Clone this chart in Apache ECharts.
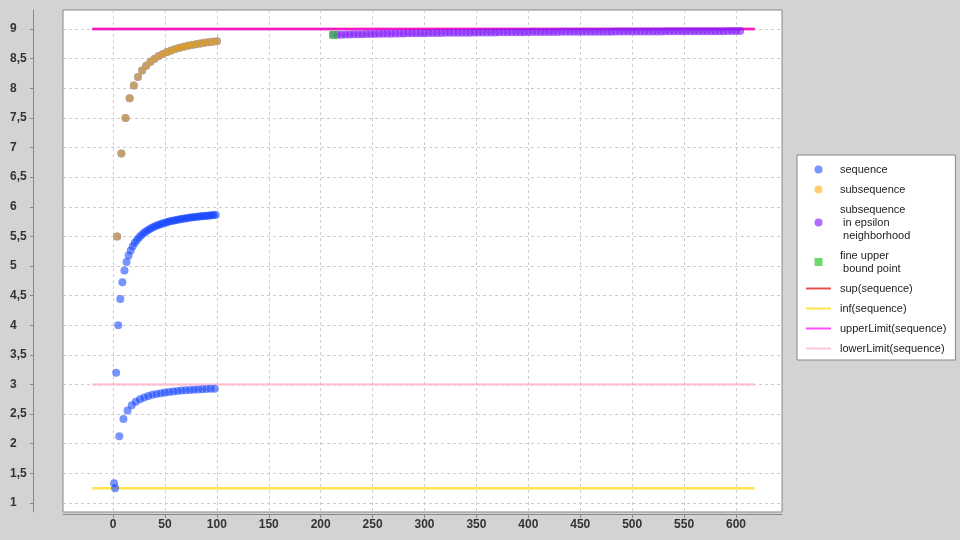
<!DOCTYPE html>
<html>
<head>
<meta charset="utf-8">
<script src="https://cdn.jsdelivr.net/npm/echarts@6/dist/echarts.min.js"></script>
<style>html,body{margin:0;padding:0;background:#d3d3d3;}#c{width:960px;height:540px;}</style>
</head>
<body>
<div id="c"></div>
<script>
// ---- data ----
const seqN = [1,2,3,4,5,6,7,8,9,10,11,12,13,14,15,16,17,18,19,20,21,22,23,24,25,26,27,28,29,30,31,32,33,34,35,36,37,38,39,40,41,42,43,44,45,46,47,48,49,50,51,52,53,54,55,56,57,58,59,60,61,62,63,64,65,66,67,68,69,70,71,72,73,74,75,76,77,78,79,80,81,82,83,84,85,86,87,88,89,90,91,92,93,94,95,96,97,98,99,100];
const seqVal = [1.333,1.25,3.2,5.5,4.0,2.125,4.444,6.9,4.727,2.417,4.923,7.5,5.067,2.563,5.176,7.833,5.263,2.65,5.333,8.045,
  5.391,2.708,5.44,8.192,5.481,2.75,5.517,8.3,5.548,2.781,5.576,8.382,5.6,2.806,5.622,8.447,5.641,2.825,5.659,8.5,
  5.674,2.841,5.689,8.543,5.702,2.854,5.714,8.58,5.725,2.865,5.736,8.611,5.745,2.875,5.754,8.638,5.763,2.883,5.77,8.661,
  5.778,2.891,5.785,8.682,5.791,2.897,5.797,8.7,5.803,2.903,5.808,8.716,5.813,2.908,5.818,8.731,5.823,2.913,5.827,8.744,
  5.831,2.917,5.835,8.756,5.839,2.92,5.843,8.767,5.846,2.924,5.849,8.777,5.853,2.927,5.856,8.786,5.859,2.93,5.861,8.794];
const subN = [4,8,12,16,20,24,28,32,36,40,44,48,52,56,60,64,68,72,76,80,84,88,92,96,100];
const subVal = [5.5,6.9,7.5,7.833,8.045,8.192,8.3,8.382,8.447,8.5,8.543,8.58,8.611,8.638,8.661,8.682,8.7,8.716,8.731,8.744,8.756,8.767,8.777,8.786,8.794];
const epsN = [212,216,220,224,228,232,236,240,244,248,252,256,260,264,268,272,276,280,284,288,292,296,300,304,308,312,316,320,324,328,
  332,336,340,344,348,352,356,360,364,368,372,376,380,384,388,392,396,400,404,408,412,416,420,424,428,432,436,440,444,448,
  452,456,460,464,468,472,476,480,484,488,492,496,500,504,508,512,516,520,524,528,532,536,540,544,548,552,556,560,564,568,
  572,576,580,584,588,592,596,600,604];
const epsVal = [8.902,8.904,8.905,8.907,8.909,8.910,8.912,8.913,8.915,8.916,8.917,8.919,8.920,8.921,8.922,8.923,8.925,8.926,8.927,8.928,
  8.929,8.930,8.930,8.931,8.932,8.933,8.934,8.935,8.936,8.936,8.937,8.938,8.939,8.939,8.940,8.941,8.941,8.942,8.943,8.943,
  8.944,8.944,8.945,8.946,8.946,8.947,8.947,8.948,8.948,8.949,8.949,8.950,8.950,8.951,8.951,8.952,8.952,8.952,8.953,8.953,
  8.954,8.954,8.955,8.955,8.955,8.956,8.956,8.956,8.957,8.957,8.957,8.958,8.958,8.958,8.959,8.959,8.959,8.960,8.960,8.960,
  8.961,8.961,8.961,8.962,8.962,8.962,8.962,8.963,8.963,8.963,8.963,8.964,8.964,8.964,8.964,8.965,8.965,8.965,8.965];
const fineN = [212];
const fineVal = [8.902];
const lineX = [-20, 618];
const supVal = 9;
const infVal = 1.25;
const upperLimitVal = 9;
const lowerLimitVal = 3;
const xTicks = [0,50,100,150,200,250,300,350,400,450,500,550,600];
const yTicks = [1,1.5,2,2.5,3,3.5,4,4.5,5,5.5,6,6.5,7,7.5,8,8.5,9];
const legendLabels = {
  'sequence': 'sequence',
  'subsequence': 'subsequence',
  'eps': 'subsequence\n in epsilon\n neighborhood',
  'fine': 'fine upper\n bound point',
  'sup(sequence)': 'sup(sequence)',
  'inf(sequence)': 'inf(sequence)',
  'upperLimit(sequence)': 'upperLimit(sequence)',
  'lowerLimit(sequence)': 'lowerLimit(sequence)'
};

const pairs = (xs, ys) => xs.map((x, i) => [x, ys[i]]);
const hline = (v) => lineX.map(x => [x, v]);

const FONT = 'Liberation Sans';
const chart = echarts.init(document.getElementById('c'), null, {renderer: 'canvas'});
const gridLine = {show: true, lineStyle: {color: '#cdcdcd', type: [3, 3], width: 1}};
const LINE_ICON = 'path://M0,0H25V2H0Z';

const lineSeries = (name, v, color) => ({
  name, type: 'line', data: hline(v), symbol: 'none', showSymbol: false, silent: true,
  lineStyle: {color, width: 2.5}, itemStyle: {color}, z: 2
});
const scatterSeries = (name, data, color, symbol, z) => ({
  name, type: 'scatter', data, symbol, symbolSize: 8, silent: true,
  itemStyle: {color}, z
});

chart.setOption({
  animation: false,
  backgroundColor: '#d3d3d3',
  textStyle: {fontFamily: FONT},
  grid: {left: 63, right: 178, top: 10, bottom: 28, show: true, backgroundColor: '#ffffff', borderColor: '#888888', borderWidth: 1},
  xAxis: {
    type: 'value', min: -48.2, max: 644.3, offset: 2,
    axisLine: {onZero: false, lineStyle: {color: '#888888', width: 1}},
    axisTick: {length: 4, customValues: xTicks, lineStyle: {color: '#888888'}},
    axisLabel: {customValues: xTicks, margin: 5, fontSize: 12, fontWeight: 'bold', color: '#333333', fontFamily: FONT},
    splitLine: gridLine
  },
  yAxis: {
    type: 'value', min: 0.848, max: 9.321, offset: 30,
    axisLine: {show: true, onZero: false, lineStyle: {color: '#888888', width: 1}},
    axisTick: {show: true, length: 3, customValues: yTicks, lineStyle: {color: '#888888'}},
    axisLabel: {customValues: yTicks, align: 'left', margin: 23, fontSize: 12, fontWeight: 'bold', color: '#333333', fontFamily: FONT,
      formatter: v => String(v).replace('.', ',')},
    splitLine: gridLine
  },
  legend: {
    orient: 'vertical', left: 797, top: 155,
    padding: [8, 9, 5, 9],
    backgroundColor: '#ffffff', borderColor: '#888888', borderWidth: 1, borderRadius: 0,
    itemWidth: 25, itemHeight: 8, itemGap: 7,
    textStyle: {fontSize: 11, lineHeight: 13, color: '#222222', fontFamily: FONT, padding: [0, 0, 0, 4]},
    formatter: name => legendLabels[name],
    data: [
      {name: 'sequence', icon: 'circle'},
      {name: 'subsequence', icon: 'circle'},
      {name: 'eps', icon: 'circle'},
      {name: 'fine', icon: 'path://M0,0H10V10H0Z'},
      {name: 'sup(sequence)', icon: LINE_ICON},
      {name: 'inf(sequence)', icon: LINE_ICON},
      {name: 'upperLimit(sequence)', icon: LINE_ICON},
      {name: 'lowerLimit(sequence)', icon: LINE_ICON}
    ]
  },
  series: [
    lineSeries('sup(sequence)', supVal, 'rgba(220,40,40,0.8)'),
    lineSeries('inf(sequence)', infVal, 'rgba(255,215,0,0.7)'),
    lineSeries('upperLimit(sequence)', upperLimitVal, 'rgba(255,0,255,0.7)'),
    lineSeries('lowerLimit(sequence)', lowerLimitVal, 'rgba(255,175,200,0.7)'),
    scatterSeries('sequence', pairs(seqN, seqVal), 'rgba(20,70,255,0.72)', 'circle', 3),
    scatterSeries('subsequence', pairs(subN, subVal), 'rgba(255,170,0,0.7)', 'circle', 4),
    scatterSeries('eps', pairs(epsN, epsVal), 'rgba(130,30,250,0.8)', 'circle', 5),
    scatterSeries('fine', pairs(fineN, fineVal), 'rgba(40,200,40,0.85)', 'rect', 6)
  ]
});
</script>
</body>
</html>
